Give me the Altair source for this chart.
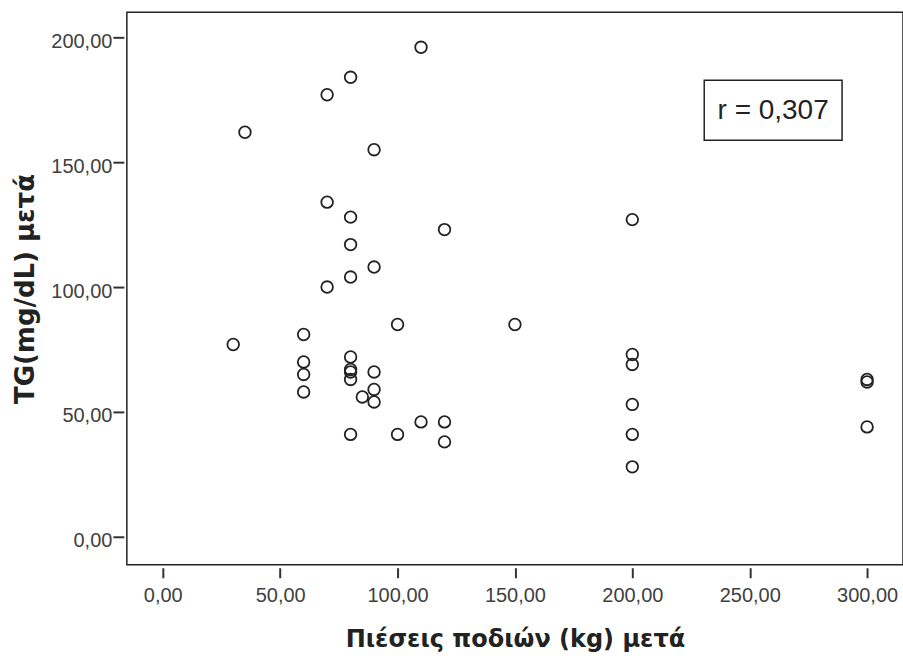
import altair as alt
import pandas as pd

# Values
x_vals = [110, 80, 70, 35, 90, 70, 80, 120, 80, 90, 80, 70, 200, 150, 100,
          30, 60, 60, 60, 60, 80, 80, 80, 80, 80, 85, 90, 90, 90, 100,
          110, 120, 120, 200, 200, 200, 200, 200, 300, 300, 300]
y_vals = [196, 184, 177, 162, 155, 134, 128, 123, 117, 108, 104, 100, 127, 85, 85,
          77, 81, 70, 65, 58, 72, 67, 66, 63, 41, 56, 66, 59, 54, 41,
          46, 46, 38, 73, 69, 53, 41, 28, 63, 62, 44]
x_ticks = [0, 50, 100, 150, 200, 250, 300]
y_ticks = [0, 50, 100, 150, 200]
r_label = ["r = 0,307"]

x_title = "Πιέσεις ποδιών (kg) μετά"
y_title = "TG(mg/dL) μετά"

df = pd.DataFrame({"x": x_vals, "y": y_vals})
ann = pd.DataFrame({"label": r_label})

label_expr = "replace(format(datum.value, '.2f'), '.', ',')"

x_scale = alt.Scale(domain=[-15.3, 315.3], nice=False, zero=False)
y_scale = alt.Scale(domain=[-11.2, 210], nice=False, zero=False)

points = alt.Chart(df).mark_point(
    shape="circle", filled=False, size=135, strokeWidth=1.8,
    color="#222222", opacity=1
).encode(
    x=alt.X("x:Q", scale=x_scale, title=x_title,
            axis=alt.Axis(values=x_ticks, labelExpr=label_expr, domain=False,
                          grid=False, offset=3, tickSize=10, tickWidth=2,
                          tickColor="#333333", labelPadding=8,
                          labelFont="Liberation Sans", labelFontSize=20,
                          labelColor="#404040", titleFont="DejaVu Sans",
                          titleFontSize=24, titleFontWeight="bold",
                          titleColor="#222222", titlePadding=22)),
    y=alt.Y("y:Q", scale=y_scale, title=y_title,
            axis=alt.Axis(values=y_ticks, labelExpr=label_expr, domain=False,
                          grid=False, offset=3, tickSize=11, tickWidth=2,
                          tickColor="#333333", labelPadding=1, labelOffset=4,
                          labelFont="Liberation Sans", labelFontSize=20,
                          labelColor="#404040", titleFont="DejaVu Sans",
                          titleFontSize=26, titleFontWeight="bold",
                          titleColor="#222222", titlePadding=12)),
)

box = alt.Chart(ann).mark_rect(
    fill="white", stroke="#222222", strokeWidth=1.5
).encode(
    x=alt.value(578), x2=alt.value(716), y=alt.value(68), y2=alt.value(128)
)

text = alt.Chart(ann).mark_text(
    font="Liberation Sans", fontSize=28, color="#222222",
    align="center", baseline="middle"
).encode(
    x=alt.value(647), y=alt.value(99), text="label:N"
)

chart = alt.layer(points, box, text).properties(
    width=777, height=553,
    padding={"left": 127, "top": 12, "right": 0, "bottom": 97},
    autosize=alt.AutoSizeParams(type="none"),
    background="white",
).configure_view(stroke="#222222", strokeWidth=1.5)

chart.save("out.html", embed_options={"renderer": "svg", "actions": False})
